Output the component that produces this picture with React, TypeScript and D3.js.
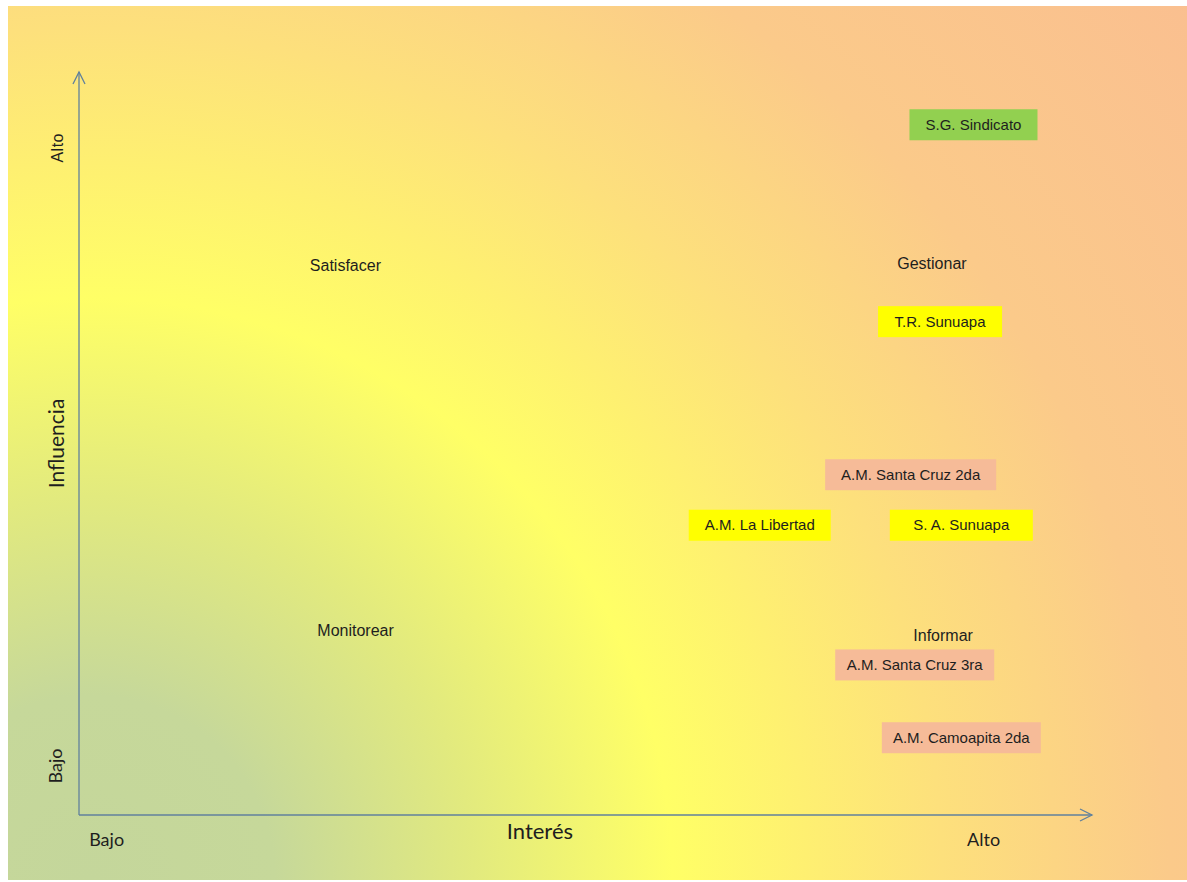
import React from "react";
import * as d3 from "d3";

// Stakeholder matrix data (interest 0-10, influence 0-10)
const stakeholders = ["S.G. Sindicato", "T.R. Sunuapa", "A.M. Santa Cruz 2da", "A.M. La Libertad", "S. A. Sunuapa", "A.M. Santa Cruz 3ra", "A.M. Camoapita 2da"];
const interest = [8.83, 8.5, 8.21, 6.72, 8.71, 8.25, 8.71];
const influence = [9.29, 6.64, 4.58, 3.9, 3.9, 2.02, 1.04];
const groups = ["alta", "media", "baja", "media", "media", "baja", "baja"];

const quadrants = ["Satisfacer", "Gestionar", "Monitorear", "Informar"];
const quadInterest = [2.63, 8.42, 2.73, 8.53];
const quadInfluence = [7.4, 7.42, 2.48, 2.42];

const axisLevels = ["Bajo", "Alto"];

// styles
const groupColor: Record<string, string> = { alta: "#92d050", media: "#ffff00", baja: "#f6bb98" };
const boxWidths = [128, 124, 171, 142, 143, 159, 159];

const W = 1187, H = 882;

export default function App() {
  const x = d3.scaleLinear().domain([0, 10]).range([79, 1092]);
  const y = d3.scaleLinear().domain([0, 10]).range([815, 72]);
  const axisColor = "#61819c";
  const boxH = 31;
  const ink = "#1e1e1e";
  return (
    <svg width={W} height={H} style={{ position: "absolute", left: 0, top: 0 }}>
      <defs>
        <radialGradient id="bg" gradientUnits="userSpaceOnUse" cx={90} cy={880} r={1420}>
          <stop offset="0" stopColor="#c4d69b" />
          <stop offset="0.13" stopColor="#c6d89a" />
          <stop offset="0.27" stopColor="#e2ea7e" />
          <stop offset="0.41" stopColor="#ffff66" />
          <stop offset="0.6" stopColor="#fde07c" />
          <stop offset="0.76" stopColor="#fbca8a" />
          <stop offset="1" stopColor="#fabf90" />
        </radialGradient>
      </defs>
      <rect x={8} y={6} width={W - 8} height={874} fill="url(#bg)" />
      {/* axes */}
      <line x1={x(0)} y1={y(0)} x2={x(0)} y2={y(10)} stroke={axisColor} strokeWidth={1.3} />
      <path d={`M${x(0) - 6},${y(10) + 12} L${x(0)},${y(10)} L${x(0) + 6},${y(10) + 12}`} fill="none" stroke={axisColor} strokeWidth={1.3} />
      <line x1={x(0)} y1={y(0)} x2={x(10)} y2={y(0)} stroke={axisColor} strokeWidth={1.3} />
      <path d={`M${x(10) - 12},${y(0) - 6} L${x(10)},${y(0)} L${x(10) - 12},${y(0) + 6}`} fill="none" stroke={axisColor} strokeWidth={1.3} />
      {/* y axis labels */}
      <text transform={`translate(63,${y(8.98)}) rotate(-90)`} textAnchor="middle" fontFamily="Liberation Sans, Arial" fontSize={16} letterSpacing={0.5} fill={ink}>{axisLevels[1]}</text>
      <text transform={`translate(62,${y(0.66)}) rotate(-90)`} textAnchor="middle" fontFamily="Lato" fontSize={18} fill={ink}>{axisLevels[0]}</text>
      <text transform={`translate(64,${y(5)}) rotate(-90)`} textAnchor="middle" fontFamily="Lato" fontSize={21} fill={ink}>Influencia</text>
      {/* x axis labels */}
      <text x={x(0.1)} y={846} fontFamily="Lato" fontSize={18} fill={ink}>{axisLevels[0]}</text>
      <text x={x(4.55)} y={839} textAnchor="middle" fontFamily="Lato" fontSize={22} fill={ink}>Interés</text>
      <text x={x(8.93)} y={846} textAnchor="middle" fontFamily="Lato" fontSize={18} fill={ink}>{axisLevels[1]}</text>
      {/* quadrant labels */}
      {quadrants.map((q, i) => (
        <text key={q} x={x(quadInterest[i])} y={y(quadInfluence[i])} dy="0.35em" textAnchor="middle" fontFamily="Liberation Sans, Arial" fontSize={16} fill={ink}>{q}</text>
      ))}
      {/* stakeholder boxes */}
      {stakeholders.map((s, i) => {
        const cx = x(interest[i]);
        const cy = y(influence[i]);
        const w = boxWidths[i];
        return (
          <g key={s}>
            <rect x={cx - w / 2} y={cy - boxH / 2} width={w} height={boxH} fill={groupColor[groups[i]]} />
            <text x={cx} y={cy} dy="0.35em" textAnchor="middle" fontFamily="Liberation Sans, Arial" fontSize={15} fill={ink}>{s}</text>
          </g>
        );
      })}
    </svg>
  );
}
